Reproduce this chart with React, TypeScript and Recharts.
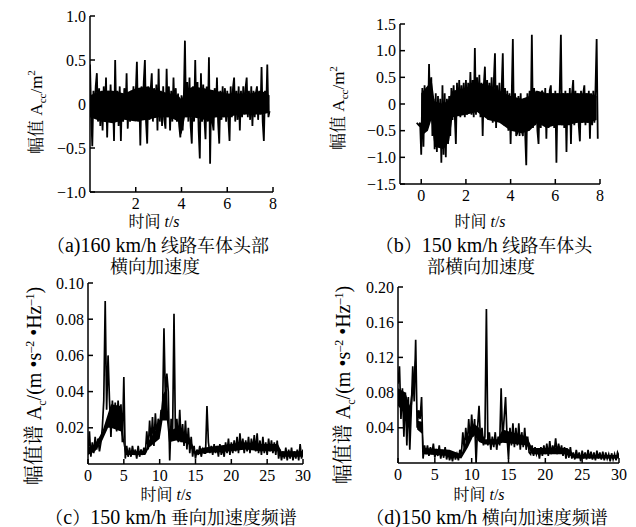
import React from "react";
import { ComposedChart, Line, Area, XAxis, YAxis } from "recharts";

const SERIF = "'Liberation Serif', 'Noto Serif CJK SC', 'Noto Sans CJK SC', serif";

// (a) 160 km/h, head lateral accel — one sample every 0.05 s from t = 0
const accelA = [
  0.45, -0.1, -0.48, 0.15, -0.12, 0.2, 0.35, -0.2, 0.18, -0.25,
  0.12, -0.3, 0.2, -0.15, 0.3, -0.38, 0.15, -0.2, 0.22, -0.15,
  0.1, -0.42, 0.5, -0.2, 0.15, -0.25, 0.2, -0.42, 0.12, -0.2,
  0.18, -0.15, 0.35, -0.28, 0.1, -0.2, 0.15, -0.12, 0.2, -0.18,
  0.12, 0.48, -0.2, 0.15, -0.47, 0.2, -0.15, 0.25, 0.5, -0.2,
  -0.45, 0.2, -0.18, 0.15, 0.35, -0.2, 0.18, -0.15, 0.22, -0.3,
  0.4, -0.2, 0.15, -0.25, 0.2, -0.18, -0.28, 0.4, -0.15, 0.2,
  -0.3, 0.15, -0.2, 0.3, -0.12, 0.18, -0.2, 0.12, -0.25, -0.38,
  0.1, -0.3, 0.05, 0.72, -0.15, 0.25, -0.2, 0.3, -0.25, -0.45,
  0.2, -0.2, 0.5, -0.15, 0.25, -0.3, -0.62, 0.35, -0.2, 0.22,
  -0.15, -0.4, 0.2, -0.2, 0.53, -0.68, 0.15, -0.2, -0.3, 0.18,
  -0.15, 0.3, -0.2, -0.45, 0.15, -0.18, 0.2, -0.15, 0.18, -0.2,
  0.15, -0.18, -0.42, 0.2, -0.15, 0.18, 0.3, -0.2, 0.15, -0.18,
  0.2, -0.3, 0.15, -0.15, 0.2, -0.12, 0.18, 0.3, -0.15, 0.15,
  -0.18, 0.2, -0.25, 0.15, -0.15, 0.12, 0.2, -0.18, 0.15, -0.12,
  0.42, -0.2, -0.42, 0.15, -0.1, 0.45, -0.15, -0.08,
];
const accelAStart = 0;
const accelAStep = 0.05;
// dense black core of trace (a): time, lower edge, upper edge
const coreA_t = [0, 0.5, 1, 1.5, 2, 2.5, 3, 3.5, 3.85, 4.0, 4.15, 4.5, 5, 5.5, 6, 6.5, 7, 7.5, 7.85];
const coreA_lo = [-0.15, -0.2, -0.22, -0.18, -0.2, -0.18, -0.15, -0.15, -0.2, -0.35, -0.15, -0.15, -0.18, -0.15, -0.15, -0.12, -0.12, -0.12, -0.1];
const coreA_hi = [0.1, 0.15, 0.15, 0.12, 0.18, 0.2, 0.15, 0.12, 0.1, 0.05, 0.15, 0.2, 0.18, 0.15, 0.12, 0.12, 0.12, 0.15, 0.1];

// (b) 150 km/h, head lateral accel — every 0.05 s from t = -0.2
const accelB = [
  -0.35, -0.38, -0.4, -0.35, -0.95, 0.3, -0.8, 0.35, -0.5, 0.2,
  -0.4, 0.75, -0.3, 0.5, -0.6, 0.1, -0.85, 0.2, -0.9, 0.15,
  -0.7, 0.1, -1.1, 0.35, -0.95, 0.2, -1.0, 0.1, -0.75, 0.15,
  -0.6, 0.3, -0.3, 0.35, -0.2, -0.75, 0.4, -0.2, 0.45, -0.25,
  0.35, -0.2, 0.4, -0.25, 0.45, -0.2, 0.4, -0.15, 0.6, -0.2,
  0.45, -0.25, 1.05, -0.2, 0.5, -0.15, 0.55, -0.25, 0.4, -0.6,
  0.35, 0.7, -0.2, 0.45, -0.3, 0.4, -0.2, 0.5, -0.35, 0.45,
  0.95, -0.45, 0.35, -0.3, 0.4, -0.35, 0.3, 0.95, -0.4, 0.3,
  -0.4, 0.25, -0.5, 0.2, -0.75, 0.15, 1.22, -0.5, 0.2, -0.6,
  -0.55, 0.15, -0.6, 0.2, -0.5, -0.6, 0.1, -0.55, -1.15, 0.2,
  -0.5, 0.25, -0.4, 1.3, -0.45, 0.3, -0.4, 0.25, -0.5, -0.75,
  0.2, -0.45, 0.25, 0.2, -0.4, 0.3, -0.65, 0.2, -0.45, 0.25,
  0.35, -0.4, 0.2, -0.45, 0.25, -1.1, 0.2, -0.35, 0.3, 1.3,
  -0.4, 0.2, -0.45, 0.25, -0.9, 0.2, -0.4, 0.3, -0.75, 0.2,
  0.45, -0.4, 0.25, -0.35, 0.2, -0.4, -0.7, 0.25, -0.35, 0.2,
  0.35, -0.4, 0.2, -0.35, 0.25, -0.65, 0.2, -0.4, 0.25, -0.35,
  0.3, 1.22, -0.65,
];
const accelBStart = -0.2;
const accelBStep = 0.05;
const coreB_t = [0, 0.3, 0.45, 0.6, 1.0, 1.25, 1.4, 2, 2.5, 3, 3.5, 4, 4.5, 4.85, 5.2, 5.6, 6, 6.5, 7, 7.5, 7.85];
const coreB_lo = [-0.6, -0.5, -0.3, -0.8, -0.85, -0.7, -0.25, -0.2, -0.15, -0.3, -0.35, -0.5, -0.55, -0.5, -0.35, -0.45, -0.4, -0.4, -0.35, -0.35, -0.3];
const coreB_hi = [0.2, 0.35, 0.5, 0.05, 0.0, 0.1, 0.25, 0.3, 0.4, 0.35, 0.25, 0.15, 0.1, 0.15, 0.25, 0.2, 0.2, 0.2, 0.2, 0.2, 0.15];

// (c) 150 km/h vertical spectrum — every 0.2 s from 0
const specC = [
  0.006, 0.018, 0.004, 0.012, 0.006, 0.015, 0.008, 0.014, 0.007, 0.012,
  0.02, 0.035, 0.09, 0.03, 0.06, 0.035, 0.015, 0.035, 0.02, 0.034,
  0.018, 0.035, 0.022, 0.033, 0.012, 0.048, 0.003, 0.01, 0.004, 0.009,
  0.004, 0.01, 0.005, 0.008, 0.003, 0.01, 0.004, 0.008, 0.005, 0.009,
  0.006, 0.018, 0.008, 0.024, 0.012, 0.026, 0.01, 0.028, 0.015, 0.025,
  0.02, 0.03, 0.028, 0.075, 0.035, 0.05, 0.04, 0.002, 0.025, 0.015,
  0.083, 0.015, 0.025, 0.012, 0.03, 0.012, 0.022, 0.01, 0.024, 0.008,
  0.02, 0.006, 0.015, 0.004, 0.01, 0.003, 0.008, 0.005, 0.01, 0.004,
  0.008, 0.006, 0.006, 0.032, 0.012, 0.006, 0.01, 0.005, 0.011, 0.006,
  0.01, 0.004, 0.011, 0.005, 0.009, 0.004, 0.012, 0.006, 0.014, 0.005,
  0.012, 0.006, 0.013, 0.007, 0.015, 0.006, 0.017, 0.008, 0.014, 0.006,
  0.013, 0.007, 0.015, 0.006, 0.014, 0.008, 0.016, 0.007, 0.017, 0.006,
  0.013, 0.005, 0.015, 0.006, 0.012, 0.005, 0.014, 0.007, 0.013, 0.006,
  0.012, 0.005, 0.013, 0.003, 0.008, 0.002, 0.007, 0.003, 0.009, 0.002,
  0.008, 0.003, 0.009, 0.002, 0.007, 0.003, 0.008, 0.002, 0.011, 0.003,
  0.008,
];
const specCStart = 0;
const specCStep = 0.2;
const coreC_t = [0, 1, 2, 2.8, 3.2, 4.6, 4.9, 5.2, 8, 8.5, 10, 10.4, 11, 11.3, 12.3, 14, 15, 16, 20, 22, 24, 26.5, 27, 30];
const coreC_lo = [0.005, 0.007, 0.013, 0.02, 0.02, 0.018, 0.012, 0.005, 0.005, 0.009, 0.014, 0.024, 0.024, 0.012, 0.013, 0.011, 0.005, 0.006, 0.007, 0.008, 0.007, 0.007, 0.004, 0.004];
const coreC_hi = [0.009, 0.011, 0.018, 0.028, 0.033, 0.032, 0.018, 0.007, 0.007, 0.013, 0.022, 0.038, 0.042, 0.018, 0.02, 0.016, 0.007, 0.009, 0.011, 0.012, 0.011, 0.011, 0.007, 0.007];

// (d) 150 km/h lateral spectrum — every 0.2 s from 0
const specD = [
  0.09, 0.11, 0.05, 0.085, 0.03, 0.08, 0.02, 0.075, 0.015, 0.06,
  0.11, 0.07, 0.14, 0.04, 0.06, 0.05, 0.075, 0.005, 0.02, 0.01,
  0.02, 0.008, 0.018, 0.01, 0.022, 0.006, 0.016, 0.008, 0.02, 0.005,
  0.015, 0.006, 0.018, 0.004, 0.012, 0.003, 0.01, 0.002, 0.012, 0.004,
  0.01, 0.003, 0.015, 0.01, 0.035, 0.015, 0.04, 0.02, 0.05, 0.025,
  0.055, 0.03, 0.05, 0.0, 0.04, 0.065, 0.025, 0.04, 0.02, 0.03,
  0.175, 0.02, 0.035, 0.015, 0.03, 0.018, 0.035, 0.015, 0.03, 0.02,
  0.085, 0.025, 0.05, 0.075, 0.03, 0.005, 0.04, 0.02, 0.045, 0.018,
  0.04, 0.02, 0.045, 0.015, 0.035, 0.018, 0.04, 0.015, 0.03, 0.012,
  0.01, 0.02, 0.008, 0.018, 0.01, 0.015, 0.005, 0.018, 0.008, 0.02,
  0.01, 0.022, 0.008, 0.025, 0.01, 0.02, 0.012, 0.028, 0.01, 0.022,
  0.012, 0.02, 0.008, 0.018, 0.005, 0.015, 0.006, 0.018, 0.005, 0.012,
  0.004, 0.015, 0.006, 0.012, 0.002, 0.014, 0.005, 0.012, 0.004, 0.015,
  0.005, 0.013, 0.004, 0.012, 0.003, 0.014, 0.005, 0.012, 0.004, 0.013,
  0.003, 0.012, 0.005, 0.01, 0.002, 0.011, 0.004, 0.01, 0.003, 0.012,
  0.008,
];
const specDStart = 0;
const specDStep = 0.2;
const coreD_t = [0, 1, 1.6, 2.0, 2.4, 2.6, 3.3, 3.5, 7, 8.6, 9.5, 10.3, 11, 11.8, 13.5, 14.2, 17.5, 18.2, 23, 24, 30];
const coreD_lo = [0.065, 0.055, 0.035, 0.075, 0.095, 0.038, 0.033, 0.01, 0.008, 0.005, 0.018, 0.032, 0.024, 0.021, 0.021, 0.023, 0.02, 0.01, 0.01, 0.005, 0.005];
const coreD_hi = [0.085, 0.08, 0.065, 0.095, 0.125, 0.048, 0.047, 0.017, 0.015, 0.01, 0.03, 0.045, 0.04, 0.027, 0.027, 0.038, 0.03, 0.017, 0.017, 0.009, 0.009];

const ticksA_x = [2, 4, 6, 8];
const ticksA_y = [-1, -0.5, 0, 0.5, 1];
const ticksB_x = [0, 2, 4, 6, 8];
const ticksB_y = [-1.5, -1, -0.5, 0, 0.5, 1, 1.5];
const ticksC_x = [0, 5, 10, 15, 20, 25, 30];
const ticksC_y = [0.02, 0.04, 0.06, 0.08, 0.1];
const ticksD_x = [0, 5, 10, 15, 20, 25, 30];
const ticksD_y = [0.04, 0.08, 0.12, 0.16, 0.2];

const toRows = (vals: number[], start: number, step: number) =>
  vals.map((v, i) => ({ t: +(start + i * step).toFixed(3), v }));
const toBand = (ts: number[], lo: number[], hi: number[]) =>
  ts.map((t, i) => ({ t, band: [lo[i], hi[i]] }));

const fmt1 = (v: number) => (v === 0 ? "0" : v.toFixed(1).replace("-", "\u2212"));
const fmt2 = (v: number) => v.toFixed(2);

function Panel({ data, band, left, top, width, height, margin, xDomain, xTicks, yDomain, yTicks, yFormat, lineWidth }: any) {
  const axisStroke = { stroke: "#000", strokeWidth: 1.5 };
  const tick = { fontSize: 16, fill: "#000", fontFamily: SERIF };
  return (
    <div style={{ position: "absolute", left, top }}>
      <ComposedChart width={width} height={height} margin={margin}>
        <XAxis
          dataKey="t"
          type="number"
          domain={xDomain}
          ticks={xTicks}
          interval={0}
          allowDataOverflow
          axisLine={axisStroke}
          tickLine={axisStroke}
          tickSize={-5}
          tickMargin={11}
          height={30}
          tick={tick}
        />
        <YAxis
          type="number"
          domain={yDomain}
          ticks={yTicks}
          interval={0}
          allowDataOverflow
          axisLine={axisStroke}
          tickLine={axisStroke}
          tickSize={-5}
          tickMargin={9}
          width={50}
          tick={tick}
          tickFormatter={yFormat}
        />
        <Area
          data={band}
          dataKey="band"
          type="linear"
          stroke="none"
          fill="#000"
          fillOpacity={1}
          isAnimationActive={false}
        />
        <Line
          data={data}
          dataKey="v"
          type="linear"
          stroke="#000"
          strokeWidth={lineWidth}
          dot={false}
          isAnimationActive={false}
        />
      </ComposedChart>
    </div>
  );
}

function Txt({ x, y, size = 16, rotate = false, children }: any) {
  return (
    <div
      style={{
        position: "absolute",
        left: x,
        top: y,
        transform: `translate(-50%, -50%)${rotate ? " rotate(-90deg)" : ""}`,
        whiteSpace: "nowrap",
        fontSize: size,
        lineHeight: 1,
      }}
    >
      {children}
    </div>
  );
}

const Lat = ({ children }: any) => <span style={{ fontSize: 20 }}>{children}</span>;
const sub = { fontSize: 11 };
const sub2 = { fontSize: 12 };

export default function App() {
  return (
    <div
      style={{
        position: "absolute",
        left: 0,
        top: 0,
        width: 636,
        height: 527,
        background: "#fff",
        color: "#000",
        fontFamily: SERIF,
        overflow: "hidden",
      }}
    >
      <Panel
        data={toRows(accelA, accelAStart, accelAStep)}
        band={toBand(coreA_t, coreA_lo, coreA_hi)}
        left={0}
        top={0}
        width={318}
        height={230}
        margin={{ top: 16, right: 45, left: 40, bottom: 8 }}
        xDomain={[0, 8]}
        xTicks={ticksA_x}
        yDomain={[-1, 1]}
        yTicks={ticksA_y}
        yFormat={fmt1}
        lineWidth={1.8}
      />
      <Panel
        data={toRows(accelB, accelBStart, accelBStep)}
        band={toBand(coreB_t, coreB_lo, coreB_hi)}
        left={318}
        top={0}
        width={318}
        height={230}
        margin={{ top: 24, right: 36, left: 32, bottom: 16 }}
        xDomain={[-0.95, 8]}
        xTicks={ticksB_x}
        yDomain={[-1.5, 1.5]}
        yTicks={ticksB_y}
        yFormat={fmt1}
        lineWidth={1.8}
      />
      <Panel
        data={toRows(specC, specCStart, specCStep)}
        band={toBand(coreC_t, coreC_lo, coreC_hi)}
        left={0}
        top={260}
        width={318}
        height={240}
        margin={{ top: 23, right: 15, left: 38, bottom: 6 }}
        xDomain={[0, 30]}
        xTicks={ticksC_x}
        yDomain={[0, 0.1]}
        yTicks={ticksC_y}
        yFormat={fmt2}
        lineWidth={1.7}
      />
      <Panel
        data={toRows(specD, specDStart, specDStep)}
        band={toBand(coreD_t, coreD_lo, coreD_hi)}
        left={318}
        top={260}
        width={318}
        height={240}
        margin={{ top: 27, right: 17, left: 30, bottom: 7 }}
        xDomain={[0, 30]}
        xTicks={ticksD_x}
        yDomain={[0, 0.2]}
        yTicks={ticksD_y}
        yFormat={fmt2}
        lineWidth={1.7}
      />

      <Txt x={37} y={112} size={17} rotate>
        幅值 A<sub style={sub}>cc</sub>/m<sup style={sub}>2</sup>
      </Txt>
      <Txt x={339} y={108} size={17} rotate>
        幅值 A<sub style={sub}>cc</sub>/m<sup style={sub}>2</sup>
      </Txt>
      <Txt x={36} y={386} size={20} rotate>
        幅值谱 A<sub style={sub2}>c</sub>/(m •s<sup style={sub2}>–2</sup> •Hz<sup style={sub2}>–1</sup>)
      </Txt>
      <Txt x={345} y={385} size={20} rotate>
        幅值谱 A<sub style={sub2}>c</sub>/(m •s<sup style={sub2}>–2</sup> •Hz<sup style={sub2}>–1</sup>)
      </Txt>

      <Txt x={154} y={222}>时间 <i>t</i>/<i>s</i></Txt>
      <Txt x={480} y={222}>时间 <i>t</i>/<i>s</i></Txt>
      <Txt x={166} y={495}>时间 <i>t</i>/<i>s</i></Txt>
      <Txt x={479} y={495}>时间 <i>t</i>/<i>s</i></Txt>

      <Txt x={158} y={245} size={18}>（<Lat>a)160 km/h</Lat> 线路车体头部</Txt>
      <Txt x={155} y={267} size={18}>横向加速度</Txt>
      <Txt x={484} y={245} size={18}>（<Lat>b</Lat>）<Lat>150 km/h</Lat> 线路车体头</Txt>
      <Txt x={481} y={267} size={18}>部横向加速度</Txt>
      <Txt x={171} y={517} size={18}>（<Lat>c</Lat>）<Lat>150 km/h</Lat> 垂向加速度频谱</Txt>
      <Txt x={487} y={517} size={18}>（<Lat>d)150 km/h</Lat> 横向加速度频谱</Txt>
    </div>
  );
}
